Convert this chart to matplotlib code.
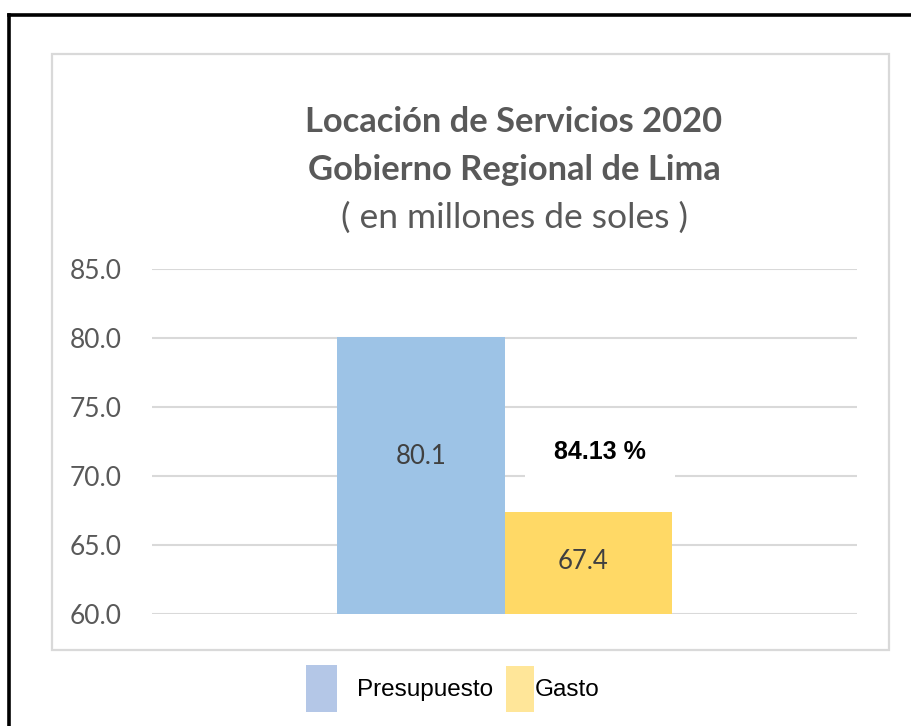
import matplotlib
matplotlib.use("Agg")
import matplotlib.pyplot as plt
from matplotlib.patches import Patch, Rectangle
from matplotlib.lines import Line2D

# datos
series = ["Presupuesto", "Gasto"]
valores = [80.1, 67.4]
porcentaje = "84.13 %"
ticks_y = [60.0, 65.0, 70.0, 75.0, 80.0, 85.0]

col_barras = ["#9DC3E6", "#FFD966"]
col_leyenda = ["#B4C7E7", "#FFE699"]

plt.rcParams['font.family'] = ['Lato', 'DejaVu Sans']

fig = plt.figure(figsize=(9.12, 7.26), dpi=100)

# marco negro exterior (solo izquierda y arriba visibles)
fig.add_artist(Line2D([0.0104, 0.0104], [0.0, 0.980], color="black", lw=2.6,
                      transform=fig.transFigure))
fig.add_artist(Line2D([0.0104, 1.0], [0.980, 0.980], color="black", lw=2.6,
                      transform=fig.transFigure))
# recuadro gris del grafico
fig.add_artist(Rectangle((0.057, 0.1047), 0.918, 0.821, fill=False,
                         edgecolor="#D9D9D9", lw=1.6, transform=fig.transFigure))

ax = fig.add_axes([0.1667, 0.1543, 0.773, 0.4752])
ancho = 0.237
posiciones = [-ancho / 2, ancho / 2]
barras = ax.bar(posiciones, valores, width=ancho, color=col_barras, zorder=2)

ax.set_xlim(-0.5, 0.5)
ax.set_ylim(60, 85)
ax.set_yticks(ticks_y)
ax.set_yticklabels([f"{t:.1f}" for t in ticks_y], fontsize=19, color="#595959")
ax.tick_params(axis="y", length=0, pad=22)
ax.set_xticks([])
for s in ax.spines.values():
    s.set_visible(False)
ax.yaxis.grid(True, color="#D9D9D9", lw=1.5, zorder=0)
ax.set_axisbelow(True)

# etiquetas de valores
ax.text(posiciones[0], 71.4, f"{valores[0]:.1f}", ha="center", va="center",
        fontsize=18.5, color="#404040")
ax.text(posiciones[1] - 0.007, 63.8, f"{valores[1]:.1f}", ha="center", va="center",
        fontsize=18.5, color="#404040")

# porcentaje de ejecucion
ax.text(0.136, 71.75, "  " + porcentaje + "  ", ha="center", va="center", fontsize=18,
        fontweight="bold", color="black", family=["Liberation Sans"], zorder=5,
        bbox=dict(boxstyle="square,pad=0.6", facecolor="white", edgecolor="none"))

# titulo
fig.text(0.5636, 0.832, "Locación de Servicios 2020", ha="center", va="center",
         fontsize=24.8, fontweight="bold", color="#595959")
fig.text(0.5636, 0.766, "Gobierno Regional de Lima", ha="center", va="center",
         fontsize=24.8, fontweight="bold", color="#595959")
fig.text(0.5636, 0.700, "( en millones de soles )", ha="center", va="center",
         fontsize=25.5, color="#595959")

# leyenda (una por serie para respetar las separaciones)
leg1 = fig.legend([Patch(facecolor=col_leyenda[0], edgecolor="none")], [series[0]],
                  loc="center", bbox_to_anchor=(0.4386, 0.051), frameon=False,
                  handlelength=1.25, handleheight=2.6, handletextpad=0.85,
                  prop={"family": "Liberation Sans", "size": 17.5})
leg2 = fig.legend([Patch(facecolor=col_leyenda[1], edgecolor="none")], [series[1]],
                  loc="center", bbox_to_anchor=(0.606, 0.051), frameon=False,
                  handlelength=1.15, handleheight=2.5, handletextpad=0.0,
                  prop={"family": "Liberation Sans", "size": 17.5})

fig.savefig("out.png", dpi=100)
